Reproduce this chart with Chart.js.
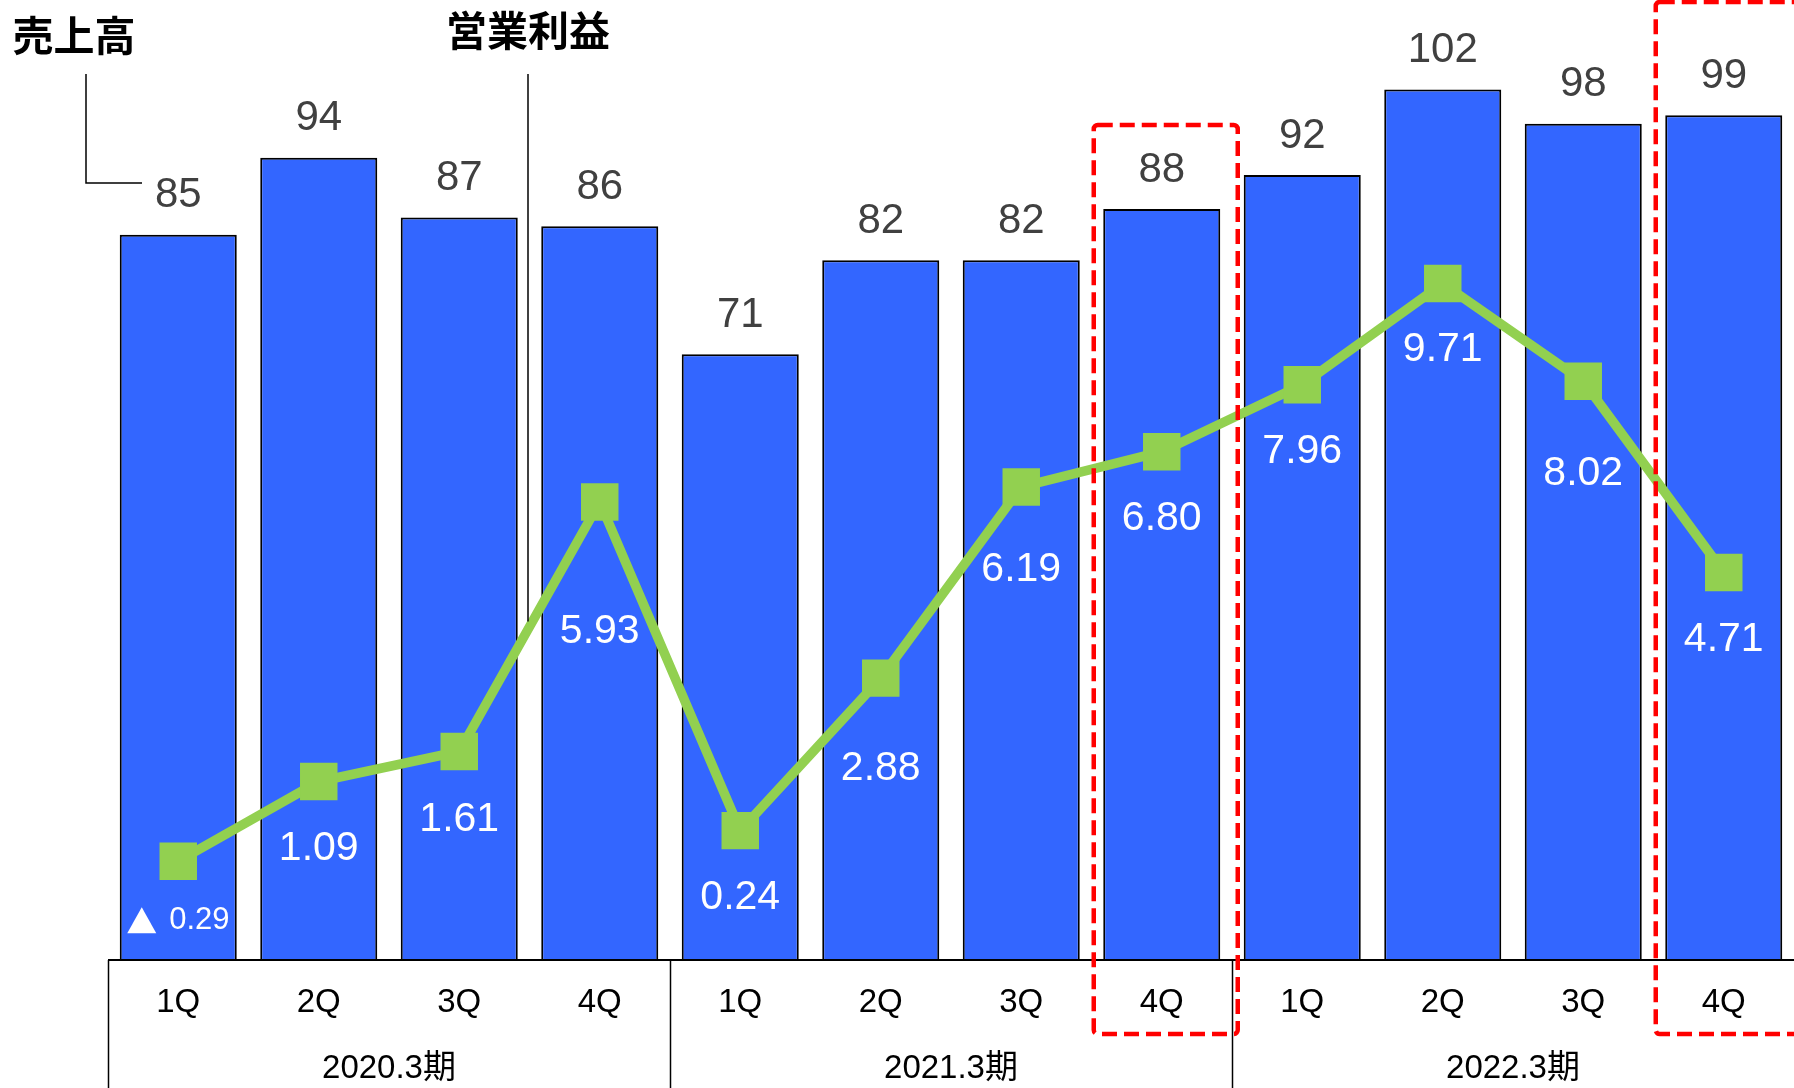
<!DOCTYPE html>
<html lang="ja">
<head>
<meta charset="utf-8">
<title>売上高・営業利益</title>
<script src="https://cdn.jsdelivr.net/npm/chart.js@4.4.1/dist/chart.umd.min.js"></script>
<style>
  html, body { margin: 0; padding: 0; background: #fff; overflow: hidden; }
  #wrap { position: relative; width: 1794px; height: 1088px; }
  canvas { display: block; }
</style>
</head>
<body>
<div id="wrap"><canvas id="chart"></canvas></div>
<script>
// 四半期ごとの値
const quarters = ['1Q', '2Q', '3Q', '4Q', '1Q', '2Q', '3Q', '4Q', '1Q', '2Q', '3Q', '4Q'];
const fiscalYears = ['2020.3期', '2021.3期', '2022.3期'];
const sales = [85, 94, 87, 86, 71, 82, 82, 88, 92, 102, 98, 99];
const operatingProfit = [-0.29, 1.09, 1.61, 5.93, 0.24, 2.88, 6.19, 6.80, 7.96, 9.71, 8.02, 4.71];
const highlighted = [7, 11];

const NUM_FONT = "'Liberation Sans', Arial, 'Noto Sans CJK JP', sans-serif";
const JP_FONT = "'Noto Sans CJK JP', 'Noto Sans CJK SC', sans-serif";
const BLUE = '#3366FF';
const GREEN = '#92D050';

// 営業利益ラベルをマーカーからどれだけ下にずらすか (px)
const profitLabelShift = [59, 67, 68, 130, 67, 91, 83, 67, 67, 66, 92, 67];
// 赤枠の上端 (px)
const boxTop = { 7: 125, 11: 2 };

const decorPlugin = {
    id: 'decor',
    afterDatasetsDraw(chart) {
        const ctx = chart.ctx;
        const xs = chart.scales.x;
        const area = chart.chartArea;
        const step = (area.right - area.left) / quarters.length;
        const bottom = chart.height;

        ctx.save();

        // 軸線と下の表
        ctx.strokeStyle = '#000';
        ctx.lineWidth = 2;
        ctx.beginPath();
        ctx.moveTo(area.left, area.bottom);
        ctx.lineTo(area.right, area.bottom);
        ctx.stroke();

        ctx.lineWidth = 1.5;
        [0, 4, 8].forEach(i => {
            const bx = Math.round(xs.getPixelForValue(i) - step / 2) + 0.5;
            ctx.beginPath();
            ctx.moveTo(bx, area.bottom);
            ctx.lineTo(bx, bottom);
            ctx.stroke();
        });

        ctx.fillStyle = '#000';
        ctx.textAlign = 'center';
        ctx.textBaseline = 'middle';
        ctx.font = '33px ' + NUM_FONT;
        quarters.forEach((q, i) => {
            ctx.fillText(q, xs.getPixelForValue(i), area.bottom + 43);
        });
        fiscalYears.forEach((fy, g) => {
            const cx = (xs.getPixelForValue(g * 4) + xs.getPixelForValue(g * 4 + 3)) / 2;
            ctx.fillText(fy, cx, area.bottom + 109);
        });

        // 赤い点線の枠
        ctx.strokeStyle = '#FF0000';
        ctx.lineWidth = 4.5;
        ctx.setLineDash([15, 7]);
        highlighted.forEach(i => {
            const cx = xs.getPixelForValue(i);
            const left = cx - 68;
            const right = cx + 76;
            const top = boxTop[i];
            const bot = area.bottom + 74;
            ctx.beginPath();
            ctx.roundRect(left, top, right - left, bot - top, 4);
            ctx.stroke();
        });
        ctx.setLineDash([]);

        // 売上高ラベル
        const barMeta = chart.getDatasetMeta(1);
        ctx.fillStyle = '#404040';
        ctx.font = '42px ' + NUM_FONT;
        barMeta.data.forEach((el, i) => {
            ctx.fillText(String(sales[i]), el.x, el.y - 39);
        });

        // 営業利益ラベル（マイナスは▲表記）
        const lineMeta = chart.getDatasetMeta(0);
        ctx.fillStyle = '#fff';
        lineMeta.data.forEach((el, i) => {
            const v = operatingProfit[i];
            const ty = el.y + profitLabelShift[i];
            if (v < 0) {
                ctx.beginPath();
                ctx.moveTo(el.x - 51, ty + 13);
                ctx.lineTo(el.x - 22, ty + 13);
                ctx.lineTo(el.x - 36.5, ty - 13);
                ctx.closePath();
                ctx.fill();
                ctx.font = '31px ' + NUM_FONT;
                ctx.textAlign = 'left';
                ctx.fillText(Math.abs(v).toFixed(2), el.x - 9, ty);
                ctx.textAlign = 'center';
            } else {
                ctx.font = '41px ' + NUM_FONT;
                ctx.fillText(v.toFixed(2), el.x, ty);
            }
        });

        // 見出しと引き出し線
        ctx.fillStyle = '#000';
        ctx.font = 'bold 41px ' + JP_FONT;
        ctx.fillText('売上高', 74, 35);
        ctx.fillText('営業利益', 528, 30);

        ctx.strokeStyle = '#000';
        ctx.lineWidth = 1.5;
        ctx.beginPath();
        ctx.moveTo(86, 74);
        ctx.lineTo(86, 183);
        ctx.lineTo(142, 183);
        ctx.stroke();

        // 営業利益の線は3Q→4Qの線分まで伸ばす
        const p3 = lineMeta.data[2], p4 = lineMeta.data[3];
        const lx = 528;
        const t = (lx - p3.x) / (p4.x - p3.x);
        const ly = p3.y + (p4.y - p3.y) * t;
        ctx.beginPath();
        ctx.moveTo(lx, 74);
        ctx.lineTo(lx, ly - 8);
        ctx.stroke();

        ctx.restore();
    }
};

new Chart(document.getElementById('chart'), {
    type: 'bar',
    data: {
        labels: quarters,
        datasets: [
            {
                type: 'line',
                label: '営業利益',
                data: operatingProfit,
                yAxisID: 'y2',
                order: 0,
                borderColor: GREEN,
                backgroundColor: GREEN,
                borderWidth: 9.5,
                tension: 0,
                pointStyle: 'rect',
                pointRadius: 26.5,
                pointHoverRadius: 26.5,
                pointBorderWidth: 0,
                pointBackgroundColor: GREEN,
                fill: false
            },
            {
                type: 'bar',
                label: '売上高',
                data: sales,
                yAxisID: 'y',
                order: 1,
                backgroundColor: BLUE,
                borderColor: '#000',
                borderWidth: 2,
                barPercentage: 0.833,
                categoryPercentage: 1
            }
        ]
    },
    options: {
        responsive: true,
        maintainAspectRatio: false,
        animation: false,
        events: [],
        layout: { autoPadding: false, padding: { left: 108, right: 0, top: 0, bottom: 128 } },
        plugins: {
            legend: { display: false },
            tooltip: { enabled: false }
        },
        scales: {
            x: { display: false, offset: true, grid: { display: false } },
            y: { display: false, min: 0, max: 112.5 },
            y2: { display: false, min: -2, max: 14.62, position: 'right' }
        }
    },
    plugins: [decorPlugin]
});
</script>
</body>
</html>
